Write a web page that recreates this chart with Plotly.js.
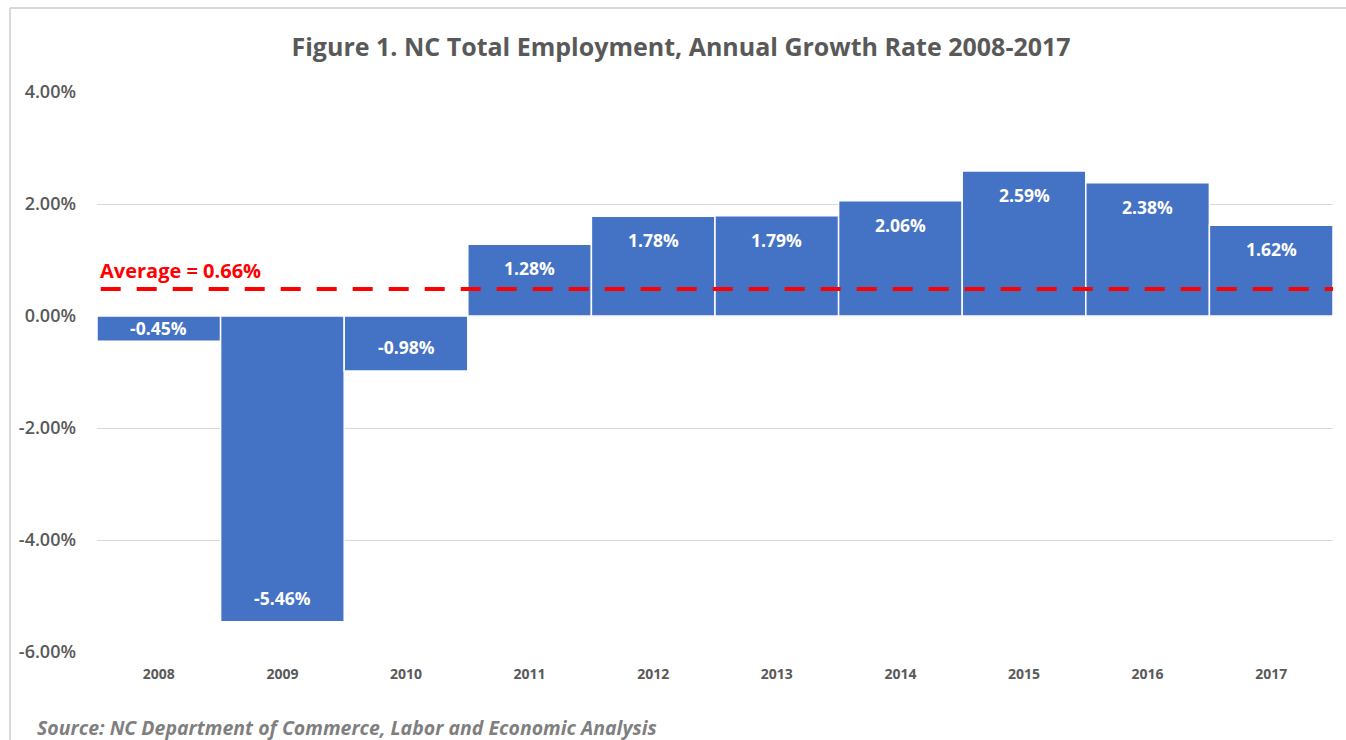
<!DOCTYPE html>
<html>
<head>
<meta charset="utf-8">
<script src="https://cdn.plot.ly/plotly-3.0.1.min.js"></script>
<style>
  html, body { margin: 0; padding: 0; background: #ffffff; }
  #chart { width: 1346px; height: 740px; }
</style>
</head>
<body>
<div id="chart"></div>
<script>
// ---- Data ----
const years = ["2008", "2009", "2010", "2011", "2012", "2013", "2014", "2015", "2016", "2017"];
const growthRates = [-0.45, -5.46, -0.98, 1.28, 1.78, 1.79, 2.06, 2.59, 2.38, 1.62];
const valueLabels = ["-0.45%", "-5.46%", "-0.98%", "1.28%", "1.78%", "1.79%", "2.06%", "2.59%", "2.38%", "1.62%"];
const averageLabel = "Average = 0.66%";
const averageLineLevel = 0.48;   // where the dashed line is drawn in the picture
const yTickValues = [-6, -4, -2, 0, 2, 4];
const yTickLabels = ["-6.00%", "-4.00%", "-2.00%", "0.00%", "2.00%", "4.00%"];
const titleText = "Figure 1. NC Total Employment, Annual Growth Rate 2008-2017";
const sourceText = "Source: NC Department of Commerce, Labor and Economic Analysis";

// ---- Layout constants ----
const W = 1346, H = 740;
const M = { l: 97, r: 13, t: 92, b: 88 };
const yRange = [-6, 4];
const plotH = H - M.t - M.b;
const plotW = W - M.l - M.r;
const pxPerUnit = plotH / (yRange[1] - yRange[0]);
const FONT = "Open Sans, Noto Sans, sans-serif";
const GRAY = "#595959";

// value labels, placed inside the bar end (category axis -> use category index)
const labelAnnotations = growthRates.map((v, i) => {
  const barPx = Math.abs(v) * pxPerUnit;
  const off = Math.min(24, barPx - 12);
  return {
    x: i, y: v, xref: "x", yref: "y",
    text: "<b>" + valueLabels[i] + "</b>",
    showarrow: false, xanchor: "center", yanchor: "middle",
    yshift: v >= 0 ? -off : off,
    font: { family: FONT, size: 17.5, color: "#ffffff" }
  };
});

const data = [{
  type: "bar",
  x: years,
  y: growthRates,
  marker: { color: "#4472C4", line: { color: "#ffffff", width: 1.5 } },
  hoverinfo: "x+y"
}];

const layout = {
  width: W, height: H,
  margin: M,
  paper_bgcolor: "#ffffff",
  plot_bgcolor: "#ffffff",
  showlegend: false,
  bargap: 0,
  title: {
    text: "<b>" + titleText + "</b>",
    font: { family: FONT, size: 25, color: GRAY },
    xref: "container", x: 0.506, xanchor: "center",
    yref: "container", y: 1 - 47 / H, yanchor: "middle"
  },
  xaxis: {
    type: "category",
    range: [-0.5, years.length - 0.5],
    showgrid: false, zeroline: false, showline: false,
    ticks: "",
    ticklabelstandoff: 12,
    tickfont: { family: FONT, size: 14, color: GRAY, weight: "bold" }
  },
  yaxis: {
    range: yRange,
    tickmode: "array",
    tickvals: yTickValues,
    ticktext: yTickLabels,
    showgrid: true, gridcolor: "#d9d9d9", gridwidth: 1,
    zeroline: true, zerolinecolor: "#d9d9d9", zerolinewidth: 1,
    showline: false, ticks: "",
    ticklabelstandoff: 20,
    tickfont: { family: FONT, size: 18, color: GRAY, weight: 600 }
  },
  shapes: [
    // average dashed line
    { type: "line", xref: "paper", yref: "y", x0: 0.003, x1: 1, y0: averageLineLevel, y1: averageLineLevel,
      line: { color: "#ff0000", width: 4, dash: "20px,16px" }, layer: "above" },
    // chart frame (left and top edges)
    { type: "line", xref: "paper", yref: "paper",
      x0: (10 - M.l) / plotW, x1: (10 - M.l) / plotW,
      y0: (H - M.b - 8) / plotH, y1: -2,
      line: { color: "#d9d9d9", width: 2 } },
    { type: "line", xref: "paper", yref: "paper",
      x0: (10 - M.l) / plotW, x1: (W + 10 - M.l) / plotW,
      y0: (H - M.b - 8) / plotH, y1: (H - M.b - 8) / plotH,
      line: { color: "#d9d9d9", width: 2 } }
  ],
  annotations: labelAnnotations.concat([
    { xref: "paper", yref: "y", x: 0, y: averageLineLevel, xanchor: "left", yanchor: "middle",
      xshift: 1, yshift: 19, showarrow: false,
      text: "<b>" + averageLabel + "</b>",
      font: { family: FONT, size: 20, color: "#ff0000" } },
    { xref: "paper", yref: "paper",
      x: (35 - M.l) / plotW, y: (H - M.b - 727) / plotH,
      xanchor: "left", yanchor: "middle", showarrow: false,
      text: "<b><i>" + sourceText + "</i></b>",
      font: { family: FONT, size: 19.5, color: "#7f7f7f" } }
  ])
};

Plotly.newPlot("chart", data, layout, { displayModeBar: false, staticPlot: true });
</script>
</body>
</html>
